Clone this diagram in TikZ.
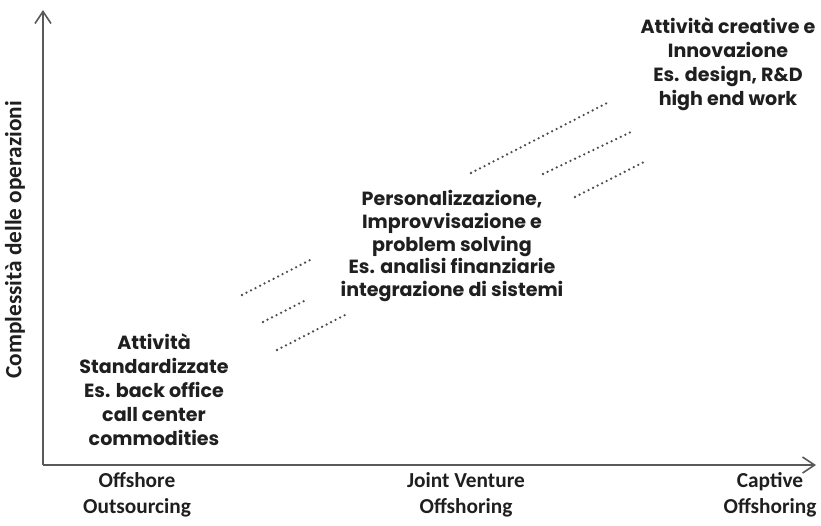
\documentclass[tikz,border=0pt]{standalone}
\usepackage{fontspec}
\setmainfont{Carlito}
\newfontfamily\boxfont{Poppins}
\usetikzlibrary{arrows.meta}
\tikzset{
  axis/.style={line width=1.6pt,black!65,-{Straight Barb[length=9pt,width=12pt,line width=1.2pt]}},
  dotline/.style={line width=1.9pt,black!70,line cap=round,dash pattern=on 0pt off 3.8pt},
  stage/.style={font=\boxfont\bfseries\fontsize{14.3}{18}\selectfont,align=center,text=black!88},
  axislabel/.style={font=\bfseries\fontsize{16}{19.5}\selectfont,align=center,text=black!88}
}
\begin{document}
\begin{tikzpicture}[x=0.75pt,y=-0.75pt]
    \useasboundingbox (0,0) rectangle (821,525);
    \coordinate (origin) at (43,465);
    \coordinate (ytip) at (43,10);
    \coordinate (xtip) at (816,465);
    \draw[axis] (origin) -- (ytip);
    \draw[axis] (origin) -- (xtip);
    \node[axislabel,font=\bfseries\fontsize{17.5}{20}\selectfont,rotate=90] (ylab) at (15,240) {Complessità delle operazioni};
    \node[axislabel] (outs) at (137,495) {Offshore\\Outsourcing};
    \node[axislabel] (jv) at (466,495) {Joint Venture\\Offshoring};
    \node[axislabel] (capt) at (770,495) {Captive\\Offshoring};
    \node[stage] (std) at (154,390) {Attività\\Standardizzate\\Es. back office\\call center\\commodities};
    \node[stage,font=\boxfont\bfseries\fontsize{14.3}{17}\selectfont] (pers) at (452,246) {Personalizzazione,\\Improvvisazione e\\problem solving\\Es. analisi finanziarie\\integrazione di sistemi};
    \node[stage] (crea) at (728,64) {Attività creative e\\Innovazione\\Es. design, R\&D\\high end work};
    % dotted links between the stages
    \draw[dotline] (242,295) -- (314,258);
    \draw[dotline] (263,322) -- (308,299);
    \draw[dotline] (277,350) -- (345,315);
    \draw[dotline] (471,173) -- (607,103);
    \draw[dotline] (543,174) -- (631,132);
    \draw[dotline] (575,197) -- (644,162);
\end{tikzpicture}
\end{document}
